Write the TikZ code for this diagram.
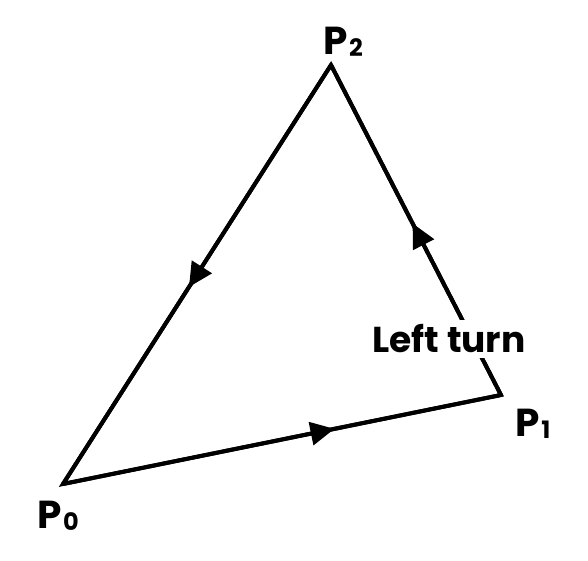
\documentclass[tikz,border=0pt]{standalone}
\usepackage{fontspec}
\setmainfont{Poppins}
\usetikzlibrary{arrows.meta,decorations.markings}
\newcommand{\vsub}[1]{\kern1.5pt\raisebox{-2pt}{\fontsize{24}{24}\selectfont #1}}
\begin{document}
\begin{tikzpicture}[x=1pt,y=-1pt,
  edge/.style={line width=4pt,line cap=round,line join=miter},
  midarrow/.style={postaction={decorate},decoration={markings,
     mark=at position #1 with {\arrow{Triangle[length=24pt,width=23pt]}}}},
  vlabel/.style={font=\fontsize{39}{39}\selectfont\bfseries,inner sep=0pt}]
\useasboundingbox (0,0) rectangle (588,561);
\coordinate (P0) at (63,484);
\coordinate (P1) at (501,395);
\coordinate (P2) at (331,65);
\draw[edge,midarrow=0.62] (P0) -- (P1);
\draw[edge,midarrow=0.52] (P1) -- (P2);
\draw[edge,midarrow=0.53] (P2) -- (P0);
\draw[edge] (P0) -- (P1) -- (P2) -- cycle;
\node[fill=white,inner xsep=2pt,inner ysep=5pt,font=\fontsize{36}{36}\selectfont\bfseries] (lbl) at (449,339) {Left turn};
\node[vlabel] (L2) at (343,42) {P\vsub{2}};
\node[vlabel] (L1) at (533,424) {P\vsub{1}};
\node[vlabel] (L0) at (58,516) {P\vsub{0}};
\end{tikzpicture}
\end{document}
